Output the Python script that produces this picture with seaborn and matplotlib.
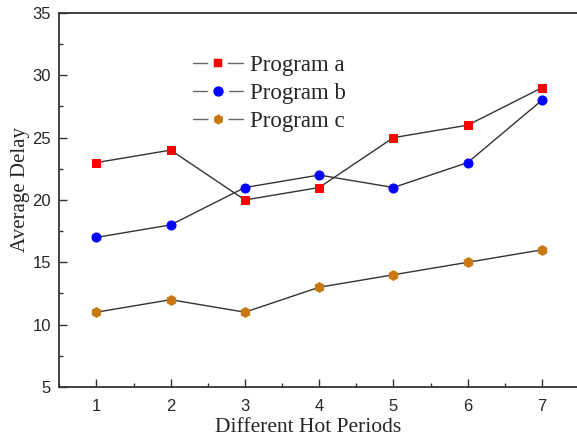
import matplotlib
matplotlib.use("Agg")
import matplotlib.pyplot as plt
import seaborn as sns
import pandas as pd
from matplotlib.ticker import MultipleLocator

periods = [1, 2, 3, 4, 5, 6, 7]
program_a = [23, 24, 20, 21, 25, 26, 29]
program_b = [17, 18, 21, 22, 21, 23, 28]
program_c = [11, 12, 11, 13, 14, 15, 16]
series_names = ["Program a", "Program b", "Program c"]

sns.set_style("ticks")
plt.rcParams['font.family'] = ['Liberation Sans', 'DejaVu Sans']

df = pd.DataFrame({
    "period": periods * 3,
    "delay": program_a + program_b + program_c,
    "program": [series_names[0]] * 7 + [series_names[1]] * 7 + [series_names[2]] * 7,
})

fig = plt.figure(figsize=(5.77, 4.4), dpi=100)
ax = fig.add_axes([0.1028, 0.1205, 0.9007, 0.85])

marker_map = {"Program a": "s", "Program b": "o", "Program c": "h"}
color_map = {"Program a": "#FF0000", "Program b": "#0000FF", "Program c": "#C87810"}
size_map = {"Program a": 5.5, "Program b": 6.5, "Program c": 7}

for name in series_names:
    sub = df[df["program"] == name]
    sns.lineplot(data=sub, x="period", y="delay", ax=ax, color="#333333", lw=1.0,
                 marker=marker_map[name], markersize=size_map[name],
                 markerfacecolor=color_map[name], markeredgecolor=color_map[name],
                 label=name)

ax.set_xlim(0.5, 7.5)
ax.set_ylim(5, 35)
ax.xaxis.set_major_locator(MultipleLocator(1))
ax.xaxis.set_minor_locator(MultipleLocator(0.5))
ax.yaxis.set_major_locator(MultipleLocator(5))
ax.yaxis.set_minor_locator(MultipleLocator(2.5))
ax.tick_params(which="major", direction="in", length=6, width=1, labelsize=12, color="#333333")
ax.tick_params(which="minor", direction="in", length=3, width=1, color="#333333")
ax.tick_params(axis="x", which="major", pad=9)
ax.tick_params(axis="y", which="major", pad=6)
for s in ax.spines.values():
    s.set_linewidth(1.3)
    s.set_color("#333333")

serif = ['Liberation Serif', 'DejaVu Serif']
ax.set_xlabel("Different Hot Periods", family=serif, fontsize=15.5)
ax.xaxis.set_label_coords(0.4786, -0.083)
ax.set_ylabel("Average Delay", family=serif, fontsize=15)
ax.yaxis.set_label_coords(-0.056, 0.527)

leg = ax.legend(loc="upper left", bbox_to_anchor=(0.2573, 0.888), frameon=False,
                prop={"family": serif, "size": 16.5}, handlelength=2.18, labelspacing=0.3,
                handletextpad=0.3, borderaxespad=0.0, borderpad=0.0)
for line in leg.get_lines():
    line.set_color("#666666")
    line.set_markeredgecolor("white")
    line.set_markeredgewidth(4)
    line.set_markersize(line.get_markersize() + 5)

fig.savefig("out.png", dpi=100)
